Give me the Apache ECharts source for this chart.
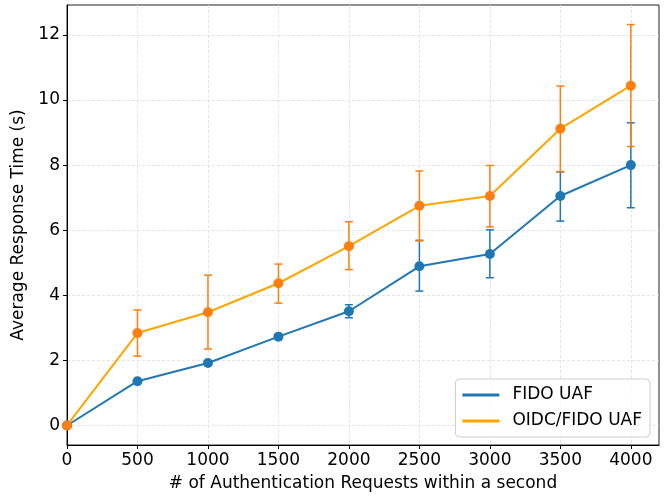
<!DOCTYPE html>
<html>
<head>
<meta charset="utf-8">
<script src="https://cdn.jsdelivr.net/npm/echarts@6/dist/echarts.min.js"></script>
<style>
  html, body { margin: 0; padding: 0; background: #fff; }
  #chart { width: 667px; height: 497px; }
</style>
</head>
<body>
<div id="chart"></div>
<script>
// requests per second on the x axis
var requests = [0, 500, 1000, 1500, 2000, 2500, 3000, 3500, 4000];

// FIDO UAF: mean response time and error bar ends (s)
var fidoMean = [0, 1.36, 1.92, 2.73, 3.51, 4.89, 5.27, 7.05, 8.00];
var fidoLow  = [0, 1.32, 1.88, 2.69, 3.31, 4.13, 4.54, 6.28, 6.69];
var fidoHigh = [0, 1.40, 1.96, 2.77, 3.71, 5.69, 6.01, 7.79, 9.30];

// OIDC/FIDO UAF
var oidcMean = [0, 2.84, 3.48, 4.37, 5.51, 6.75, 7.05, 9.12, 10.44];
var oidcLow  = [0, 2.13, 2.35, 3.76, 4.79, 5.67, 6.10, 7.80, 8.57];
var oidcHigh = [0, 3.55, 4.62, 4.96, 6.26, 7.82, 7.99, 10.43, 12.32];

var xTicks = [0, 500, 1000, 1500, 2000, 2500, 3000, 3500, 4000];
var yTicks = [0, 2, 4, 6, 8, 10, 12];

var blue = '#1f77b4';
var orangeLine = '#ffa500';
var orangeMark = '#ff7f0e';
var font = 'DejaVu Sans';
var fs = 17;

function pairs(xs, ys) {
  var out = [];
  for (var i = 0; i < xs.length; i++) out.push([xs[i], ys[i]]);
  return out;
}
function errRows(xs, lo, hi) {
  var out = [];
  for (var i = 0; i < xs.length; i++) out.push([xs[i], lo[i], hi[i]]);
  return out;
}

// draws a vertical error bar with caps
function errorBar(color) {
  return function (params, api) {
    var x = api.value(0);
    var lo = api.coord([x, api.value(1)]);
    var hi = api.coord([x, api.value(2)]);
    var cap = 4;
    var style = { stroke: color, lineWidth: 1.5 };
    return {
      type: 'group',
      children: [
        { type: 'line', shape: { x1: lo[0], y1: lo[1], x2: hi[0], y2: hi[1] }, style: style },
        { type: 'line', shape: { x1: lo[0] - cap, y1: lo[1], x2: lo[0] + cap, y2: lo[1] }, style: style },
        { type: 'line', shape: { x1: hi[0] - cap, y1: hi[1], x2: hi[0] + cap, y2: hi[1] }, style: style }
      ]
    };
  };
}

var myChart = echarts.init(document.getElementById('chart'));

var option = {
  animation: false,
  textStyle: { fontFamily: font },
  grid: {
    left: 67, right: 8, top: 5, bottom: 52,
    show: true,
    borderColor: '#222',
    borderWidth: 1
  },
  legend: {
    orient: 'vertical',
    right: 17,
    bottom: 60,
    padding: [6, 8, 6, 7],
    itemGap: 6,
    itemWidth: 37,
    itemHeight: 3,
    icon: 'rect',
    borderColor: '#cccccc',
    borderWidth: 1,
    borderRadius: 4,
    backgroundColor: 'rgba(255,255,255,0.8)',
    textStyle: { fontSize: fs, color: '#000', fontFamily: font, padding: [0, 0, 0, 8], lineHeight: 20 },
    data: [
      { name: 'FIDO UAF', itemStyle: { color: blue } },
      { name: 'OIDC/FIDO UAF', itemStyle: { color: orangeLine } }
    ]
  },
  xAxis: {
    type: 'value',
    min: 0,
    max: 4200,
    name: '# of Authentication Requests within a second',
    nameLocation: 'middle',
    nameGap: 30,
    nameTextStyle: { fontSize: fs, color: '#000', fontFamily: font },
    axisLine: { show: true, onZero: false, lineStyle: { color: '#000', width: 1 } },
    axisTick: { show: true, inside: false, length: 4, lineStyle: { color: '#000' }, customValues: xTicks },
    axisLabel: {
      fontSize: fs, color: '#000', fontFamily: font, margin: 7, customValues: xTicks,
      formatter: function (v) { return String(v); }
    },
    splitLine: { show: true, lineStyle: { color: '#dddddd', type: [3, 2], width: 0.8 } }
  },
  yAxis: {
    type: 'value',
    min: -0.6,
    max: 12.92,
    name: 'Average Response Time (s)',
    nameLocation: 'middle',
    nameGap: 36,
    nameTextStyle: { fontSize: fs, color: '#000', fontFamily: font },
    axisLine: { show: true, onZero: false, lineStyle: { color: '#000', width: 1 } },
    axisTick: { show: true, inside: false, length: 4, lineStyle: { color: '#000' }, customValues: yTicks },
    axisLabel: { fontSize: fs, color: '#000', fontFamily: font, margin: 7, customValues: yTicks },
    splitLine: { show: true, lineStyle: { color: '#dddddd', type: [3, 2], width: 0.8 } }
  },
  series: [
    {
      name: 'FIDO UAF err',
      type: 'custom',
      renderItem: errorBar(blue),
      data: errRows(requests, fidoLow, fidoHigh),
      encode: { x: 0, y: [1, 2] },
      z: 2,
      silent: true
    },
    {
      name: 'OIDC/FIDO UAF err',
      type: 'custom',
      renderItem: errorBar(orangeMark),
      data: errRows(requests, oidcLow, oidcHigh),
      encode: { x: 0, y: [1, 2] },
      z: 3,
      silent: true
    },
    {
      name: 'FIDO UAF',
      type: 'line',
      data: pairs(requests, fidoMean),
      symbol: 'circle',
      symbolSize: 10,
      showAllSymbol: true,
      lineStyle: { color: blue, width: 2 },
      itemStyle: { color: blue },
      z: 4
    },
    {
      name: 'OIDC/FIDO UAF',
      type: 'line',
      data: pairs(requests, oidcMean),
      symbol: 'circle',
      symbolSize: 10,
      showAllSymbol: true,
      lineStyle: { color: orangeLine, width: 2 },
      itemStyle: { color: orangeMark },
      z: 5
    }
  ]
};

myChart.setOption(option);
</script>
</body>
</html>
